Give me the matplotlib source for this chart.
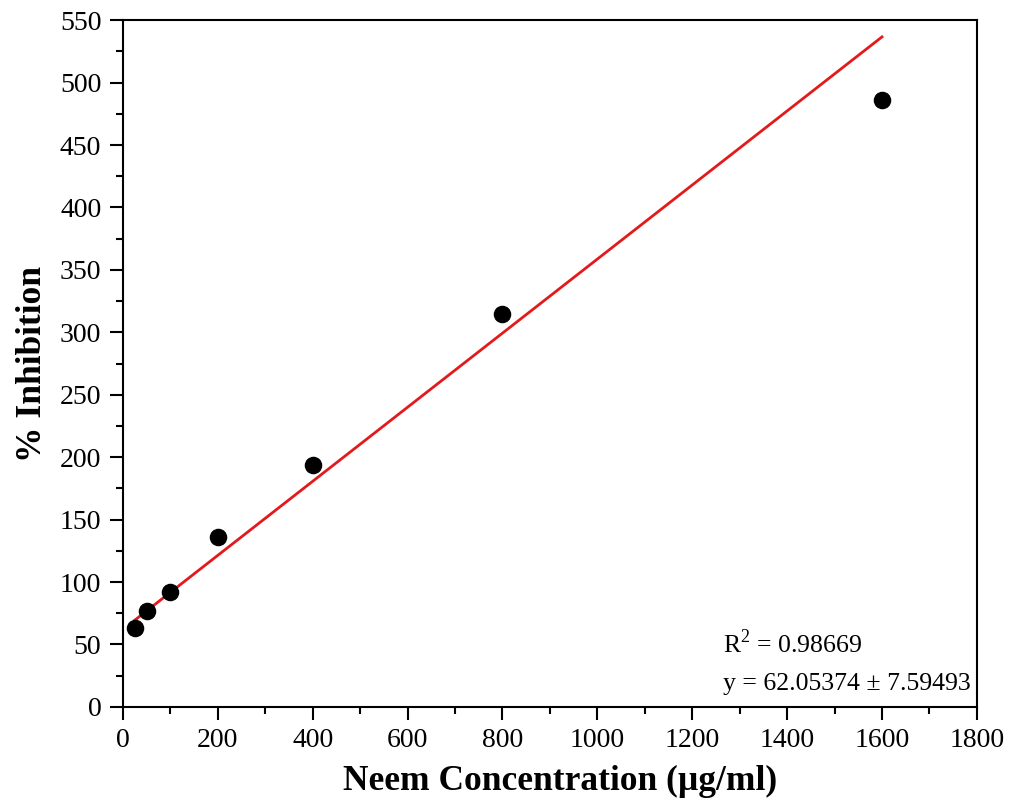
import matplotlib
matplotlib.use('Agg')
import matplotlib.pyplot as plt
import numpy as np
from matplotlib.ticker import MultipleLocator

# measured points
conc = [25, 50, 100, 200, 400, 800, 1600]
inhibition = [63, 77, 92, 136, 194, 315, 486]

# linear fit shown on chart
fit_intercept = 62.05374
fit_slope = 0.2966
fit_range = [25, 1600]

plt.rcParams['font.family'] = ['Liberation Serif', 'DejaVu Serif']
plt.rcParams['mathtext.fontset'] = 'custom'
plt.rcParams['mathtext.rm'] = 'Liberation Serif'

fig = plt.figure(figsize=(10.24, 8.07), dpi=100)
ax = fig.add_axes([0.120, 0.124, 0.834, 0.851])

fx = np.array(fit_range)
ax.plot(fx, fit_intercept + fit_slope * fx, color='#e31a1c', linewidth=2, zorder=2)
ax.scatter(conc, inhibition, s=135, color='black', zorder=3)

ax.set_xlim(0, 1800)
ax.set_ylim(0, 550)
ax.xaxis.set_major_locator(MultipleLocator(200))
ax.xaxis.set_minor_locator(MultipleLocator(100))
ax.yaxis.set_major_locator(MultipleLocator(50))
ax.yaxis.set_minor_locator(MultipleLocator(25))

for s in ax.spines.values():
    s.set_linewidth(1.5)
ax.tick_params(which='major', direction='out', length=9.5, width=1.5, labelsize=20)
ax.tick_params(which='minor', direction='out', length=5, width=1.5)
ax.tick_params(axis='x', which='major', pad=6)
ax.tick_params(axis='y', which='major', pad=6)

ax.set_xlabel('Neem Concentration (µg/ml)', fontsize=25.5, fontweight='bold')
ax.xaxis.set_label_coords(0.512, -0.084)
ax.set_ylabel('% Inhibition', fontsize=25.5, fontweight='bold', labelpad=8)

ax.text(0.703, 0.072, r'R$^2$ = 0.98669', transform=ax.transAxes, fontsize=18.5,
        ha='left', va='bottom')
ax.text(0.703, 0.018, 'y = 62.05374 ± 7.59493', transform=ax.transAxes, fontsize=18.5,
        ha='left', va='bottom')

fig.savefig('out.png', dpi=100)
